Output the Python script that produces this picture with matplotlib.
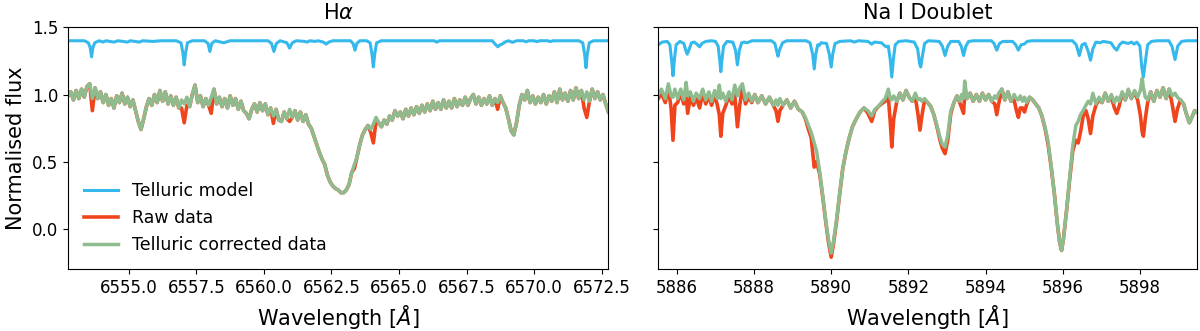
import matplotlib

matplotlib.use("Agg")
import matplotlib.pyplot as plt

TELL_COLOR = "#35b9ec"
RAW_COLOR = "#f0441c"
CORR_COLOR = "#8fbc8f"

LEGEND_LABELS = ["Telluric model", "Raw data", "Telluric corrected data"]
TITLES = ["H$\\alpha$", "Na I Doublet"]

# ---- H-alpha panel -------------------------------------------------------
HA_TELLURIC = [
    (6552.75, 1.40), (6553.35, 1.40), (6553.50, 1.385), (6553.57, 1.35), (6553.62, 1.28),
    (6553.67, 1.35), (6553.74, 1.385), (6553.90, 1.40), (6554.05, 1.39), (6554.15, 1.40),
    (6554.45, 1.39), (6554.60, 1.40), (6554.95, 1.39), (6555.05, 1.40), (6555.40, 1.39),
    (6555.50, 1.40), (6555.90, 1.395), (6556.20, 1.40), (6556.75, 1.40), (6556.93, 1.385),
    (6557.00, 1.31), (6557.05, 1.22), (6557.10, 1.31), (6557.17, 1.385), (6557.35, 1.40),
    (6557.80, 1.40), (6557.93, 1.38), (6558.00, 1.32), (6558.07, 1.38), (6558.20, 1.40),
    (6558.40, 1.39), (6558.50, 1.385), (6558.60, 1.39), (6558.75, 1.40), (6560.15, 1.40),
    (6560.28, 1.38), (6560.37, 1.32), (6560.46, 1.38), (6560.60, 1.40), (6560.85, 1.385),
    (6560.95, 1.345), (6561.05, 1.385), (6561.20, 1.40), (6561.50, 1.395), (6561.60, 1.39),
    (6561.70, 1.40), (6561.90, 1.395), (6562.00, 1.40), (6562.20, 1.39), (6562.30, 1.375),
    (6562.40, 1.39), (6562.55, 1.40), (6563.20, 1.40), (6563.30, 1.38), (6563.37, 1.33),
    (6563.44, 1.38), (6563.55, 1.40), (6563.80, 1.40), (6563.93, 1.385), (6564.00, 1.30),
    (6564.05, 1.205), (6564.10, 1.30), (6564.17, 1.385), (6564.35, 1.40), (6566.30, 1.40),
    (6566.40, 1.39), (6566.50, 1.40), (6568.45, 1.40), (6568.58, 1.37), (6568.66, 1.355),
    (6568.74, 1.37), (6568.82, 1.375), (6568.92, 1.39), (6569.05, 1.40), (6569.20, 1.388),
    (6569.35, 1.40), (6569.60, 1.40), (6569.70, 1.392), (6569.80, 1.40), (6570.00, 1.40),
    (6570.10, 1.393), (6570.20, 1.40), (6570.50, 1.40), (6570.60, 1.394), (6570.70, 1.40),
    (6571.65, 1.40), (6571.80, 1.385), (6571.87, 1.30), (6571.92, 1.20), (6571.97, 1.30),
    (6572.04, 1.385), (6572.20, 1.40), (6572.75, 1.40),
]

HA_WAVE = [
    6552.75, 6552.85, 6552.95, 6553.05, 6553.15, 6553.25, 6553.35, 6553.45, 6553.55, 6553.65,
    6553.75, 6553.85, 6553.95, 6554.05, 6554.15, 6554.25, 6554.35, 6554.45, 6554.55, 6554.65,
    6554.75, 6554.85, 6554.95, 6555.05, 6555.15, 6555.25, 6555.35, 6555.45, 6555.55, 6555.65,
    6555.75, 6555.85, 6555.95, 6556.05, 6556.15, 6556.25, 6556.35, 6556.45, 6556.55, 6556.65,
    6556.75, 6556.85, 6556.95, 6557.05, 6557.15, 6557.25, 6557.35, 6557.45, 6557.55, 6557.65,
    6557.75, 6557.85, 6557.95, 6558.05, 6558.15, 6558.25, 6558.35, 6558.45, 6558.55, 6558.65,
    6558.75, 6558.85, 6558.95, 6559.05, 6559.15, 6559.25, 6559.35, 6559.45, 6559.55, 6559.65,
    6559.75, 6559.85, 6559.95, 6560.05, 6560.15, 6560.25, 6560.35, 6560.45, 6560.55, 6560.65,
    6560.75, 6560.85, 6560.95, 6561.05, 6561.15, 6561.25, 6561.35, 6561.45, 6561.55, 6561.65,
    6561.75, 6561.85, 6561.95, 6562.05, 6562.15, 6562.25, 6562.35, 6562.45, 6562.55, 6562.65,
    6562.75, 6562.85, 6562.95, 6563.05, 6563.15, 6563.25, 6563.35, 6563.45, 6563.55, 6563.65,
    6563.75, 6563.85, 6563.95, 6564.05, 6564.15, 6564.25, 6564.35, 6564.45, 6564.55, 6564.65,
    6564.75, 6564.85, 6564.95, 6565.05, 6565.15, 6565.25, 6565.35, 6565.45, 6565.55, 6565.65,
    6565.75, 6565.85, 6565.95, 6566.05, 6566.15, 6566.25, 6566.35, 6566.45, 6566.55, 6566.65,
    6566.75, 6566.85, 6566.95, 6567.05, 6567.15, 6567.25, 6567.35, 6567.45, 6567.55, 6567.65,
    6567.75, 6567.85, 6567.95, 6568.05, 6568.15, 6568.25, 6568.35, 6568.45, 6568.55, 6568.65,
    6568.75, 6568.85, 6568.95, 6569.05, 6569.15, 6569.25, 6569.35, 6569.45, 6569.55, 6569.65,
    6569.75, 6569.85, 6569.95, 6570.05, 6570.15, 6570.25, 6570.35, 6570.45, 6570.55, 6570.65,
    6570.75, 6570.85, 6570.95, 6571.05, 6571.15, 6571.25, 6571.35, 6571.45, 6571.55, 6571.65,
    6571.75, 6571.85, 6571.95, 6572.05, 6572.15, 6572.25, 6572.35, 6572.45, 6572.55, 6572.65,
    6572.75,
]

HA_CORR = [
    0.99, 1.02, 0.96, 1.03, 0.97, 1.04, 0.98, 1.06, 1.08, 0.97,
    1.05, 0.97, 1.02, 0.94, 1.00, 0.92, 0.97, 0.90, 0.99, 0.94,
    1.01, 0.93, 0.98, 0.91, 0.96, 0.88, 0.80, 0.74, 0.82, 0.91,
    0.97, 0.92, 1.00, 0.94, 1.03, 0.95, 1.02, 0.93, 0.99, 0.92,
    0.98, 0.90, 0.96, 0.93, 0.98, 0.91, 1.00, 1.07, 0.94, 0.99,
    0.91, 0.97, 0.92, 0.98, 1.04, 0.93, 0.98, 0.91, 0.97, 0.90,
    0.99, 0.92, 0.97, 0.89, 0.95, 0.88, 0.86, 0.82, 0.89, 0.93,
    0.87, 0.94, 0.88, 0.93, 0.85, 0.90, 0.84, 0.89, 0.81, 0.80,
    0.87, 0.82, 0.89, 0.83, 0.88, 0.81, 0.87, 0.80, 0.85, 0.78,
    0.75, 0.69, 0.63, 0.57, 0.52, 0.48, 0.40, 0.35, 0.32, 0.30,
    0.29, 0.27, 0.27, 0.29, 0.33, 0.42, 0.48, 0.54, 0.63, 0.70,
    0.74, 0.77, 0.74, 0.78, 0.83, 0.79, 0.76, 0.81, 0.78, 0.84,
    0.81, 0.88, 0.84, 0.87, 0.82, 0.89, 0.84, 0.90, 0.85, 0.91,
    0.86, 0.92, 0.87, 0.93, 0.88, 0.95, 0.89, 0.94, 0.89, 0.96,
    0.90, 0.95, 0.90, 0.97, 0.91, 0.96, 0.92, 0.98, 0.92, 0.97,
    1.00, 0.93, 0.98, 0.92, 0.97, 0.93, 0.99, 0.92, 0.97, 0.94,
    0.99, 0.94, 0.90, 0.82, 0.73, 0.70, 0.79, 0.92, 1.00, 0.96,
    1.03, 0.94, 0.99, 0.93, 0.98, 0.94, 1.00, 0.93, 0.99, 0.95,
    1.02, 0.94, 1.04, 0.96, 1.01, 0.95, 1.03, 0.96, 1.05, 0.97,
    1.03, 0.96, 1.02, 0.95, 1.04, 0.97, 1.02, 0.96, 1.00, 0.93,
    0.87,
]

HA_RAW = [
    0.99, 1.02, 0.96, 1.03, 0.97, 1.04, 0.98, 1.06, 1.08, 0.88,
    1.05, 0.97, 1.02, 0.94, 1.00, 0.92, 0.97, 0.90, 0.99, 0.94,
    1.01, 0.93, 0.98, 0.91, 0.96, 0.88, 0.80, 0.74, 0.82, 0.91,
    0.97, 0.92, 1.00, 0.94, 1.03, 0.95, 1.02, 0.93, 0.99, 0.92,
    0.98, 0.90, 0.90, 0.79, 0.92, 0.91, 1.00, 1.07, 0.94, 0.99,
    0.91, 0.97, 0.92, 0.86, 1.04, 0.93, 0.98, 0.91, 0.97, 0.90,
    0.99, 0.92, 0.97, 0.89, 0.95, 0.88, 0.86, 0.82, 0.89, 0.93,
    0.87, 0.94, 0.88, 0.93, 0.85, 0.90, 0.785, 0.89, 0.81, 0.80,
    0.87, 0.82, 0.80, 0.83, 0.88, 0.81, 0.87, 0.80, 0.85, 0.78,
    0.75, 0.69, 0.63, 0.57, 0.52, 0.48, 0.40, 0.35, 0.32, 0.30,
    0.29, 0.27, 0.27, 0.29, 0.33, 0.42, 0.45, 0.54, 0.63, 0.70,
    0.74, 0.77, 0.72, 0.64, 0.80, 0.79, 0.76, 0.81, 0.78, 0.84,
    0.81, 0.88, 0.84, 0.87, 0.82, 0.89, 0.84, 0.90, 0.85, 0.91,
    0.86, 0.92, 0.87, 0.93, 0.88, 0.95, 0.89, 0.94, 0.89, 0.96,
    0.90, 0.95, 0.90, 0.97, 0.91, 0.96, 0.92, 0.98, 0.92, 0.97,
    1.00, 0.93, 0.98, 0.92, 0.97, 0.93, 0.99, 0.92, 0.97, 0.89,
    0.99, 0.94, 0.90, 0.82, 0.73, 0.70, 0.79, 0.92, 1.00, 0.96,
    1.03, 0.94, 0.99, 0.93, 0.98, 0.94, 1.00, 0.93, 0.99, 0.95,
    1.02, 0.94, 1.04, 0.96, 1.01, 0.95, 1.03, 0.96, 1.05, 0.97,
    1.03, 0.90, 0.83, 0.95, 1.04, 0.97, 1.02, 0.96, 1.00, 0.93,
    0.87,
]

# ---- Na I doublet panel --------------------------------------------------
NA_TELLURIC = [
    (5885.52, 1.37), (5885.62, 1.39), (5885.75, 1.395), (5885.82, 1.37), (5885.87, 1.24),
    (5885.90, 1.14), (5885.93, 1.24), (5885.98, 1.37), (5886.08, 1.395), (5886.18, 1.38),
    (5886.24, 1.32), (5886.27, 1.30), (5886.31, 1.33), (5886.38, 1.385), (5886.45, 1.39),
    (5886.52, 1.375), (5886.59, 1.355), (5886.65, 1.38), (5886.75, 1.395), (5886.90, 1.40),
    (5887.00, 1.395), (5887.07, 1.36), (5887.11, 1.26), (5887.14, 1.17), (5887.17, 1.26),
    (5887.21, 1.36), (5887.30, 1.395), (5887.45, 1.39), (5887.52, 1.33), (5887.57, 1.22),
    (5887.62, 1.33), (5887.68, 1.385), (5887.75, 1.39), (5887.82, 1.385), (5887.95, 1.40),
    (5888.45, 1.40), (5888.54, 1.38), (5888.59, 1.32), (5888.62, 1.285), (5888.66, 1.33),
    (5888.74, 1.385), (5888.85, 1.40), (5889.35, 1.40), (5889.45, 1.385), (5889.52, 1.30),
    (5889.56, 1.19), (5889.60, 1.30), (5889.65, 1.37), (5889.69, 1.365), (5889.74, 1.385),
    (5889.88, 1.38), (5889.95, 1.30), (5890.00, 1.205), (5890.04, 1.30), (5890.10, 1.38),
    (5890.15, 1.385), (5890.22, 1.395), (5890.50, 1.40), (5890.60, 1.39), (5890.70, 1.40),
    (5890.95, 1.395), (5891.05, 1.375), (5891.12, 1.39), (5891.30, 1.385), (5891.42, 1.355),
    (5891.48, 1.36), (5891.53, 1.26), (5891.57, 1.13), (5891.61, 1.26), (5891.66, 1.37),
    (5891.75, 1.395), (5891.95, 1.40), (5892.15, 1.39), (5892.24, 1.34), (5892.29, 1.23),
    (5892.32, 1.205), (5892.36, 1.28), (5892.42, 1.38), (5892.52, 1.40), (5892.80, 1.395),
    (5892.88, 1.36), (5892.95, 1.29), (5893.02, 1.36), (5893.10, 1.395), (5893.30, 1.395),
    (5893.37, 1.36), (5893.43, 1.29), (5893.49, 1.36), (5893.56, 1.395), (5893.70, 1.40),
    (5894.15, 1.40), (5894.22, 1.38), (5894.29, 1.33), (5894.36, 1.38), (5894.45, 1.395),
    (5894.70, 1.395), (5894.78, 1.37), (5894.85, 1.33), (5894.92, 1.37), (5895.00, 1.375),
    (5895.08, 1.395), (5895.20, 1.40), (5896.25, 1.40), (5896.35, 1.37), (5896.43, 1.29),
    (5896.50, 1.37), (5896.58, 1.38), (5896.65, 1.33), (5896.72, 1.255), (5896.78, 1.34),
    (5896.86, 1.39), (5896.97, 1.385), (5897.05, 1.395), (5897.25, 1.385), (5897.33, 1.35),
    (5897.40, 1.33), (5897.47, 1.37), (5897.55, 1.39), (5897.70, 1.38), (5897.78, 1.39),
    (5897.85, 1.375), (5897.92, 1.39), (5898.00, 1.36), (5898.05, 1.20), (5898.09, 1.13),
    (5898.13, 1.22), (5898.20, 1.37), (5898.30, 1.395), (5898.45, 1.40), (5898.75, 1.40),
    (5898.83, 1.36), (5898.91, 1.26), (5898.98, 1.36), (5899.08, 1.395), (5899.20, 1.40),
    (5899.47, 1.40),
]

NA_WAVE = [
    5885.52, 5885.60, 5885.70, 5885.78, 5885.85, 5885.90, 5885.95, 5886.02, 5886.10, 5886.18,
    5886.24, 5886.28, 5886.35, 5886.43, 5886.50, 5886.59, 5886.67, 5886.75, 5886.83, 5886.90,
    5886.98, 5887.05, 5887.10, 5887.14, 5887.19, 5887.27, 5887.35, 5887.43, 5887.50, 5887.57,
    5887.63, 5887.70, 5887.78, 5887.86, 5887.94, 5888.02, 5888.10, 5888.20, 5888.30, 5888.40,
    5888.50, 5888.57, 5888.62, 5888.67, 5888.75, 5888.85, 5888.95, 5889.05, 5889.15, 5889.25,
    5889.33, 5889.41, 5889.48, 5889.56, 5889.62, 5889.70, 5889.78, 5889.86, 5889.93, 5890.00,
    5890.06, 5890.14, 5890.22, 5890.30, 5890.38, 5890.46, 5890.55, 5890.65, 5890.75, 5890.85,
    5890.95, 5891.05, 5891.13, 5891.22, 5891.30, 5891.40, 5891.48, 5891.53, 5891.57, 5891.62,
    5891.70, 5891.78, 5891.86, 5891.94, 5892.02, 5892.10, 5892.18, 5892.25, 5892.30, 5892.35,
    5892.42, 5892.50, 5892.58, 5892.66, 5892.74, 5892.82, 5892.88, 5892.95, 5893.02, 5893.10,
    5893.18, 5893.26, 5893.33, 5893.38, 5893.43, 5893.46, 5893.52, 5893.60, 5893.68, 5893.76,
    5893.84, 5893.92, 5894.00, 5894.08, 5894.16, 5894.24, 5894.29, 5894.34, 5894.42, 5894.50,
    5894.58, 5894.66, 5894.74, 5894.80, 5894.85, 5894.90, 5894.96, 5895.01, 5895.06, 5895.14,
    5895.22, 5895.30, 5895.38, 5895.46, 5895.54, 5895.62, 5895.70, 5895.78, 5895.86, 5895.92,
    5895.97, 5896.02, 5896.10, 5896.18, 5896.26, 5896.34, 5896.40, 5896.46, 5896.53, 5896.60,
    5896.66, 5896.72, 5896.78, 5896.86, 5896.94, 5897.02, 5897.10, 5897.18, 5897.26, 5897.34,
    5897.40, 5897.46, 5897.54, 5897.62, 5897.70, 5897.78, 5897.86, 5897.94, 5898.01, 5898.06,
    5898.09, 5898.14, 5898.20, 5898.28, 5898.36, 5898.44, 5898.52, 5898.60, 5898.68, 5898.76,
    5898.84, 5898.91, 5898.97, 5899.05, 5899.13, 5899.20, 5899.28, 5899.36, 5899.42, 5899.47,
]

NA_CORR = [
    1.00, 1.04, 0.97, 1.08, 0.99, 0.98, 1.04, 0.97, 1.04, 0.96,
    1.09, 0.99, 1.02, 0.95, 1.01, 0.97, 1.04, 0.96, 1.02, 0.95,
    1.03, 0.97, 1.07, 0.97, 1.01, 0.95, 1.02, 0.96, 1.07, 0.99,
    1.05, 1.08, 0.96, 1.01, 0.95, 1.00, 0.94, 0.99, 0.93, 0.98,
    0.92, 0.96, 0.92, 0.97, 0.92, 0.96, 0.90, 0.95, 0.89, 0.87,
    0.83, 0.77, 0.72, 0.64, 0.58, 0.43, 0.25, 0.06, -0.08, -0.18,
    -0.09, 0.07, 0.27, 0.45, 0.57, 0.67, 0.76, 0.82, 0.87, 0.90,
    0.88, 0.84, 0.89, 0.91, 0.94, 0.97, 1.04, 0.97, 0.96, 0.99,
    0.95, 1.01, 0.96, 1.03, 0.98, 0.95, 1.01, 0.96, 0.97, 0.95,
    0.97, 0.94, 0.91, 0.85, 0.77, 0.68, 0.63, 0.61, 0.70, 0.88,
    0.94, 0.99, 0.95, 1.00, 0.97, 1.10, 0.97, 1.01, 0.95, 1.00,
    0.95, 1.01, 0.96, 1.00, 0.95, 0.99, 0.97, 1.01, 1.04, 0.96,
    1.02, 0.95, 1.00, 0.97, 0.96, 0.99, 0.95, 0.98, 0.94, 0.98,
    0.96, 0.93, 0.90, 0.84, 0.76, 0.65, 0.47, 0.27, 0.04, -0.10,
    -0.16, -0.07, 0.14, 0.38, 0.62, 0.77, 0.80, 0.85, 0.88, 0.92,
    0.95, 0.93, 1.01, 0.93, 0.98, 0.94, 1.01, 0.95, 1.00, 0.94,
    0.98, 0.95, 1.02, 0.96, 1.04, 0.97, 1.03, 0.98, 1.03, 1.12,
    1.05, 0.98, 0.96, 1.02, 0.95, 1.03, 0.98, 1.05, 0.97, 1.04,
    0.99, 1.01, 0.98, 0.96, 0.93, 0.86, 0.79, 0.84, 0.88, 0.87,
]

NA_RAW = [
    0.97, 1.01, 0.94, 1.05, 0.90, 0.66, 0.92, 0.94, 1.01, 0.93,
    1.00, 0.86, 0.98, 0.92, 0.98, 0.90, 1.01, 0.93, 0.99, 0.92,
    1.00, 0.92, 0.85, 0.69, 0.86, 0.92, 0.99, 0.93, 1.00, 0.76,
    0.92, 1.05, 0.93, 0.98, 0.94, 1.00, 0.94, 0.99, 0.93, 0.98,
    0.92, 0.88, 0.80, 0.88, 0.92, 0.96, 0.90, 0.95, 0.89, 0.87,
    0.82, 0.74, 0.68, 0.46, 0.50, 0.41, 0.24, 0.05, -0.10, -0.21,
    -0.11, 0.06, 0.26, 0.45, 0.57, 0.67, 0.76, 0.82, 0.87, 0.90,
    0.86, 0.80, 0.88, 0.91, 0.93, 0.95, 0.98, 0.80, 0.61, 0.82,
    0.95, 1.01, 0.96, 1.03, 0.98, 0.95, 0.98, 0.85, 0.735, 0.84,
    0.96, 0.94, 0.91, 0.85, 0.76, 0.66, 0.60, 0.56, 0.66, 0.86,
    0.94, 0.99, 0.94, 0.90, 0.86, 1.00, 0.97, 1.01, 0.95, 1.00,
    0.95, 1.01, 0.96, 1.00, 0.95, 0.93, 0.85, 0.93, 1.04, 0.96,
    1.02, 0.95, 0.96, 0.88, 0.83, 0.90, 0.90, 0.87, 0.92, 0.98,
    0.96, 0.93, 0.90, 0.84, 0.75, 0.63, 0.46, 0.27, 0.04, -0.10,
    -0.16, -0.07, 0.14, 0.37, 0.58, 0.66, 0.64, 0.72, 0.84, 0.88,
    0.82, 0.71, 0.84, 0.92, 0.96, 0.94, 1.01, 0.95, 0.98, 0.90,
    0.86, 0.91, 1.01, 0.96, 1.03, 0.97, 1.02, 0.96, 0.85, 0.72,
    0.69, 0.82, 0.94, 1.02, 0.95, 1.03, 0.98, 1.05, 0.97, 1.04,
    0.92, 0.80, 0.89, 0.96, 0.93, 0.86, 0.79, 0.84, 0.88, 0.87,
]

HA_XTICKS = [6555.0, 6557.5, 6560.0, 6562.5, 6565.0, 6567.5, 6570.0, 6572.5]
NA_XTICKS = [5886, 5888, 5890, 5892, 5894, 5896, 5898]
Y_TICKS = [0.0, 0.5, 1.0, 1.5]


def plot_panel(ax, telluric, wave, raw, corr, title, xticks):
    tell_wave = [w for w, _ in telluric]
    tell_flux = [f for _, f in telluric]
    ax.plot(tell_wave, tell_flux, color=TELL_COLOR, lw=2.2, label=LEGEND_LABELS[0])
    ax.plot(wave, raw, color=RAW_COLOR, lw=2.6, label=LEGEND_LABELS[1])
    ax.plot(wave, corr, color=CORR_COLOR, lw=2.5, label=LEGEND_LABELS[2])

    ax.set_xlim(wave[0], wave[-1])
    ax.set_xticks(xticks)
    ax.ticklabel_format(axis="x", useOffset=False)
    ax.set_title(title, fontsize=15)
    ax.set_xlabel("Wavelength [$Å$]", fontsize=15)
    ax.tick_params(labelsize=12)


fig = plt.figure(figsize=(12, 3.31), dpi=100)
ax1 = fig.add_axes([0.0567, 0.1864, 0.4503, 0.7311])
ax2 = fig.add_axes([0.5486, 0.1864, 0.4486, 0.7311], sharey=ax1)

plot_panel(ax1, HA_TELLURIC, HA_WAVE, HA_RAW, HA_CORR, TITLES[0], HA_XTICKS)
plot_panel(ax2, NA_TELLURIC, NA_WAVE, NA_RAW, NA_CORR, TITLES[1], NA_XTICKS)

ax1.set_ylim(-0.3, 1.5)
ax1.set_yticks(Y_TICKS)
ax1.set_ylabel("Normalised flux", fontsize=15)
ax2.tick_params(labelleft=False)

ax1.legend(loc="lower left", frameon=False, fontsize=12.5)

fig.savefig("out.png", dpi=100)
